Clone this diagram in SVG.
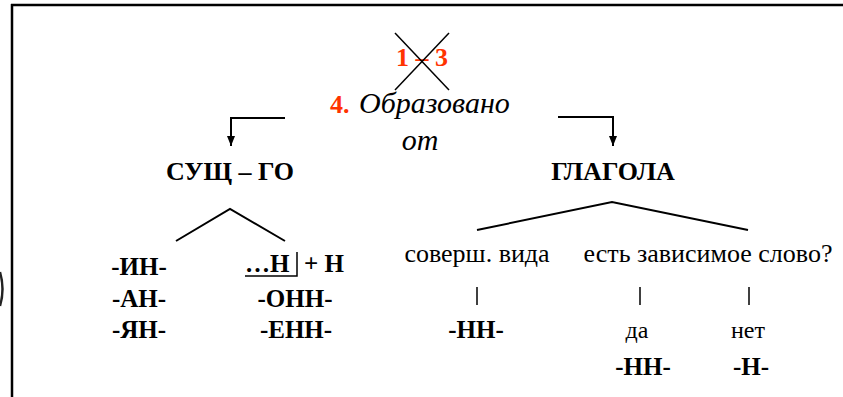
<svg xmlns="http://www.w3.org/2000/svg" width="843" height="397" viewBox="0 0 843 397">
<style>
text{font-family:'Liberation Serif',serif !important}
.b{font-weight:bold}
.r{fill:#ff3300;font-weight:bold}
.i{font-style:italic}
.ln{stroke:#000;stroke-width:2;fill:none}
.thin{stroke:#000;stroke-width:1.5;fill:none}
</style>
<defs>
<marker id="ah" markerWidth="10" markerHeight="8" refX="10" refY="4" orient="auto" markerUnits="userSpaceOnUse" viewBox="0 0 10 8">
<path d="M0,0 L10,4 L0,8 Z" fill="#000"/>
</marker>
</defs>
<rect width="843" height="397" fill="#fff"/>
<g id="frame" stroke="#000" stroke-width="2.5" fill="none">
<line x1="11" y1="5" x2="843" y2="5"/>
<line x1="12" y1="4" x2="12" y2="397"/>
<path d="M0,272 Q5,289 0,306" stroke="#222"/>
</g>
<g id="crossed">
<text class="r" style="font-family:'Liberation Serif',serif" x="422" y="66" font-size="26" text-anchor="middle">1 – 3</text>
<line class="thin" x1="395" y1="33" x2="449" y2="90"/>
<line class="thin" x1="449" y1="33" x2="395" y2="90"/>
</g>
<g id="root">
<text class="r" style="font-family:'Liberation Serif',serif" x="330" y="113" font-size="26">4.</text>
<text class="i" style="font-family:'Liberation Serif',serif" x="359" y="113" font-size="30">Образовано</text>
<text class="i" style="font-family:'Liberation Serif',serif" x="420" y="150" font-size="30" text-anchor="middle">от</text>
</g>
<g id="noun">
<text class="b" style="font-family:'Liberation Serif',serif" x="230" y="180" font-size="26" text-anchor="middle">СУЩ – ГО</text>
</g>
<g id="verb">
<text class="b" style="font-family:'Liberation Serif',serif" x="613" y="180" font-size="26" text-anchor="middle">ГЛАГОЛА</text>
</g>
<g id="noun-suffixes">
<text class="b" style="font-family:'Liberation Serif',serif" x="139" y="275" font-size="25" text-anchor="middle">-ИН-</text>
<text class="b" style="font-family:'Liberation Serif',serif" x="139" y="307" font-size="25" text-anchor="middle">-АН-</text>
<text class="b" style="font-family:'Liberation Serif',serif" x="139" y="338" font-size="25" text-anchor="middle">-ЯН-</text>
<text class="b" style="font-family:'Liberation Serif',serif" x="245" y="272" font-size="25">…Н</text>
<path class="thin" d="M245,276 H297 V252"/>
<text class="b" style="font-family:'Liberation Serif',serif" x="304" y="272" font-size="25">+ Н</text>
<text class="b" style="font-family:'Liberation Serif',serif" x="295" y="307" font-size="25" text-anchor="middle">-ОНН-</text>
<text class="b" style="font-family:'Liberation Serif',serif" x="296" y="338" font-size="25" text-anchor="middle">-ЕНН-</text>
</g>
<g id="perfective">
<text style="font-family:'Liberation Serif',serif" x="477" y="262" font-size="26" text-anchor="middle">соверш. вида</text>
<line class="thin" x1="477" y1="287" x2="477" y2="305"/>
<text class="b" style="font-family:'Liberation Serif',serif" x="476" y="338" font-size="25" text-anchor="middle">-НН-</text>
</g>
<g id="dependent">
<text style="font-family:'Liberation Serif',serif" x="708" y="262" font-size="26" text-anchor="middle">есть зависимое слово?</text>
<line class="thin" x1="640" y1="287" x2="640" y2="305"/>
<line class="thin" x1="749" y1="287" x2="749" y2="305"/>
<text style="font-family:'Liberation Serif',serif" x="637" y="338" font-size="24" text-anchor="middle">да</text>
<text style="font-family:'Liberation Serif',serif" x="748" y="338" font-size="24" text-anchor="middle">нет</text>
<text class="b" style="font-family:'Liberation Serif',serif" x="643" y="375" font-size="25" text-anchor="middle">-НН-</text>
<text class="b" style="font-family:'Liberation Serif',serif" x="751" y="375" font-size="25" text-anchor="middle">-Н-</text>
</g>
<g id="connectors">
<path class="ln" d="M285,118 H231 V146" marker-end="url(#ah)"/>
<path class="ln" d="M558,117 H613 V146" marker-end="url(#ah)"/>
<path class="ln" d="M176,241 L230,209 L285,241"/>
<path class="ln" d="M477,230 L612,202 L748,230"/>
</g>
</svg>
